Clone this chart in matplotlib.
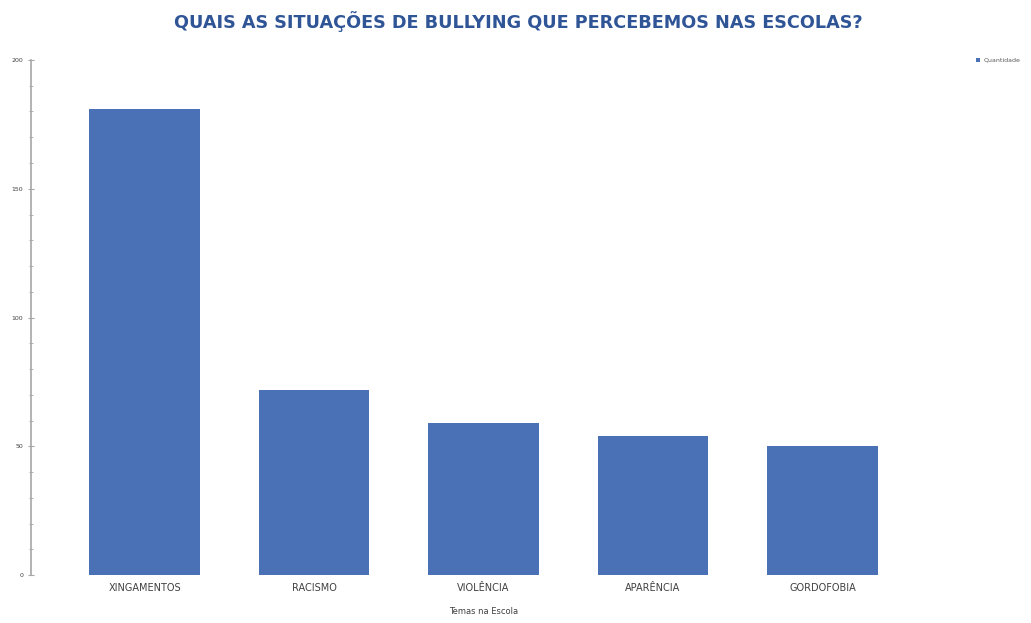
import matplotlib
matplotlib.use("Agg")
import matplotlib.pyplot as plt
from matplotlib.ticker import MultipleLocator

categorias = ["XINGAMENTOS", "RACISMO", "VIOLÊNCIA", "APARÊNCIA", "GORDOFOBIA"]
quantidade = [181, 72, 59, 54, 50]
y_ticks = [0, 50, 100, 150, 200]

cor_barra = "#4a70b5"

fig = plt.figure(figsize=(10.31, 6.23), dpi=100)
ax = fig.add_axes([31 / 1031, 48 / 623, 905 / 1031, 515 / 623])

x = range(len(categorias))
ax.bar(x, quantidade, width=0.65, color=cor_barra, label="Quantidade")

ax.set_xlim(-0.67, len(categorias) - 0.33)
ax.set_ylim(0, 200)
ax.set_yticks(y_ticks)
ax.yaxis.set_minor_locator(MultipleLocator(10))
ax.set_xticks(list(x))
ax.set_xticklabels(categorias, fontsize=7, color="#404040")
ax.tick_params(axis="x", length=0, pad=6)
ax.tick_params(axis="y", which="major", labelsize=4.5, labelcolor="#404040",
               length=4, color="#a6a6a6", direction="inout")
ax.tick_params(axis="y", which="minor", length=3, color="#a6a6a6", direction="inout")

for s in ["top", "right", "bottom"]:
    ax.spines[s].set_visible(False)
ax.spines["left"].set_color("#a6a6a6")
ax.spines["left"].set_linewidth(1.2)

ax.set_xlabel("Temas na Escola", fontsize=6, color="#404040", labelpad=10)

fig.suptitle("QUAIS AS SITUAÇÕES DE BULLYING QUE PERCEBEMOS NAS ESCOLAS?",
             x=518 / 1031, y=1 - 22 / 623, va="center",
             fontsize=12.7, fontweight="bold", color="#2f5597")

fig.legend(loc="upper left", bbox_to_anchor=(970 / 1031, 1 - 52 / 623),
           frameon=False, fontsize=4.5, handlelength=0.7, handleheight=0.7,
           handletextpad=0.6, labelcolor="#595959")

fig.savefig("out.png", dpi=100)
